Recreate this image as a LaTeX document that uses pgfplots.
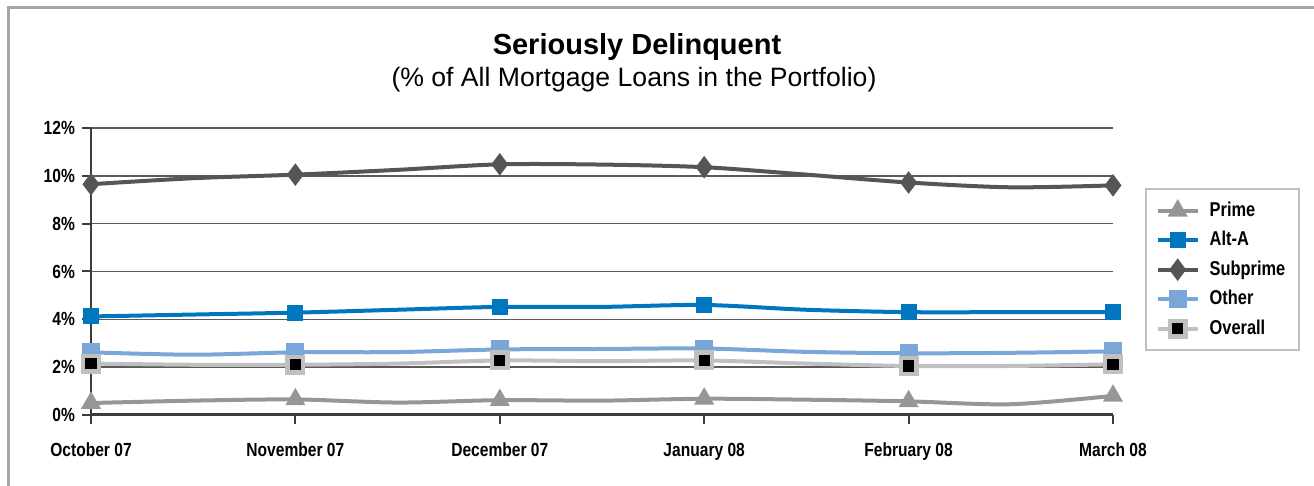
\documentclass[border=0pt]{standalone}
\usepackage{fontspec}
\setmainfont{Liberation Sans}
\newfontfamily\cond[FakeStretch=0.82]{Liberation Sans}
\usepackage{pgfplots}
\pgfplotsset{compat=1.18}
\usepackage{pgfplotstable}

\definecolor{primegray}{RGB}{150,150,153}
\definecolor{altablue}{RGB}{0,118,190}
\definecolor{subgray}{RGB}{85,85,88}
\definecolor{otherblue}{RGB}{122,166,216}
\definecolor{overgray}{RGB}{192,192,192}
\definecolor{axisdark}{RGB}{60,60,62}
\definecolor{gridgray}{RGB}{90,90,92}
\definecolor{framegray}{RGB}{165,165,168}

% months at 0..5, half-month points in between (no marks)
\pgfplotstableread{
x    prime alta subprime other overall
0    0.50  4.12 9.65     2.62  2.15
0.5  0.60  4.20 9.90     2.52  2.10
1    0.65  4.28 10.05    2.62  2.10
1.5  0.52  4.40 10.25    2.63  2.15
2    0.62  4.52 10.48    2.74  2.28
2.5  0.60  4.52 10.47    2.76  2.25
3    0.68  4.60 10.36    2.78  2.28
3.5  0.64  4.40 10.05    2.64  2.15
4    0.57  4.30 9.72     2.58  2.05
4.5  0.45  4.30 9.52     2.60  2.05
5    0.80  4.30 9.60     2.66  2.12
}\data

\begin{document}
\begin{tikzpicture}
\path[use as bounding box] (0,0) rectangle (657pt,243pt);
\draw[framegray, line width=1.5pt] (4pt,0) -- (4pt,239pt) -- (657pt,239pt);
\node[font=\bfseries\fontsize{14.5}{16}\selectfont] at (318.5pt,219.5pt) {Seriously Delinquent};
\node[font=\fontsize{13.3}{15}\selectfont] at (317pt,203pt) {(\% of All Mortgage Loans in the Portfolio)};
\begin{axis}[
    at={(45.5pt,35.5pt)}, anchor=south west,
    scale only axis, width=511pt, height=143.5pt,
    xmin=0, xmax=5, ymin=0, ymax=12,
    clip=false,
    axis x line=bottom, axis y line=left,
    axis line style={-},
    x axis line style={axisdark, line width=1.5pt},
    y axis line style={axisdark, line width=1pt},
    tick align=outside, major tick length=4.5pt,
    tick style={axisdark, line width=1pt},
    xtick={0,1,2,3,4,5},
    xticklabels={October 07, November 07, December 07, January 08, February 08, March 08},
    ytick={0,2,4,6,8,10,12},
    yticklabels={0\%,2\%,4\%,6\%,8\%,10\%,12\%},
    ticklabel style={font=\cond\bfseries\fontsize{9.5}{11}\selectfont},
    xticklabel style={yshift=-6pt},
    ymajorgrids, major grid style={gridgray, line width=0.7pt},
    every axis plot/.append style={line width=2pt, smooth, tension=0.5, mark repeat=2},
    legend style={at={(1.031,0.791)}, anchor=north west, draw=overgray, line width=1pt,
        font=\cond\bfseries\fontsize{10}{11}\selectfont, row sep=2pt,
        inner xsep=5pt, inner ysep=4.5pt,
        /tikz/every odd column/.append style={column sep=3pt}},
    legend cell align=left,
    legend image code/.code={\draw[mark repeat=2,mark phase=2] plot coordinates {(0pt,0pt) (10pt,0pt) (20pt,0pt)};},
]
\addplot[primegray, mark=triangle*, mark size=3.8pt, mark options={solid}] table[x=x,y=prime] {\data};
\addlegendentry{Prime}
\addplot[altablue, mark=square*, mark size=3pt] table[x=x,y=alta] {\data};
\addlegendentry{Alt-A}
\addplot[subgray, mark=diamond*, mark size=4pt] table[x=x,y=subprime] {\data};
\addlegendentry{Subprime}
\addplot[otherblue, mark=square*, mark size=3.5pt] table[x=x,y=other] {\data};
\addlegendentry{Other}
\addplot[overgray, mark=square*, mark size=4pt,
    legend image code/.code={\draw[mark repeat=2,mark phase=2] plot coordinates {(0pt,0pt) (10pt,0pt) (20pt,0pt)};
        \fill[black] (8.2pt,-1.8pt) rectangle (11.8pt,1.8pt);}] table[x=x,y=overall] {\data};
\addlegendentry{Overall}
\addplot[black, only marks, mark=square*, mark size=1.8pt, forget plot] table[x=x,y=overall] {\data};
\end{axis}
\end{tikzpicture}
\end{document}
